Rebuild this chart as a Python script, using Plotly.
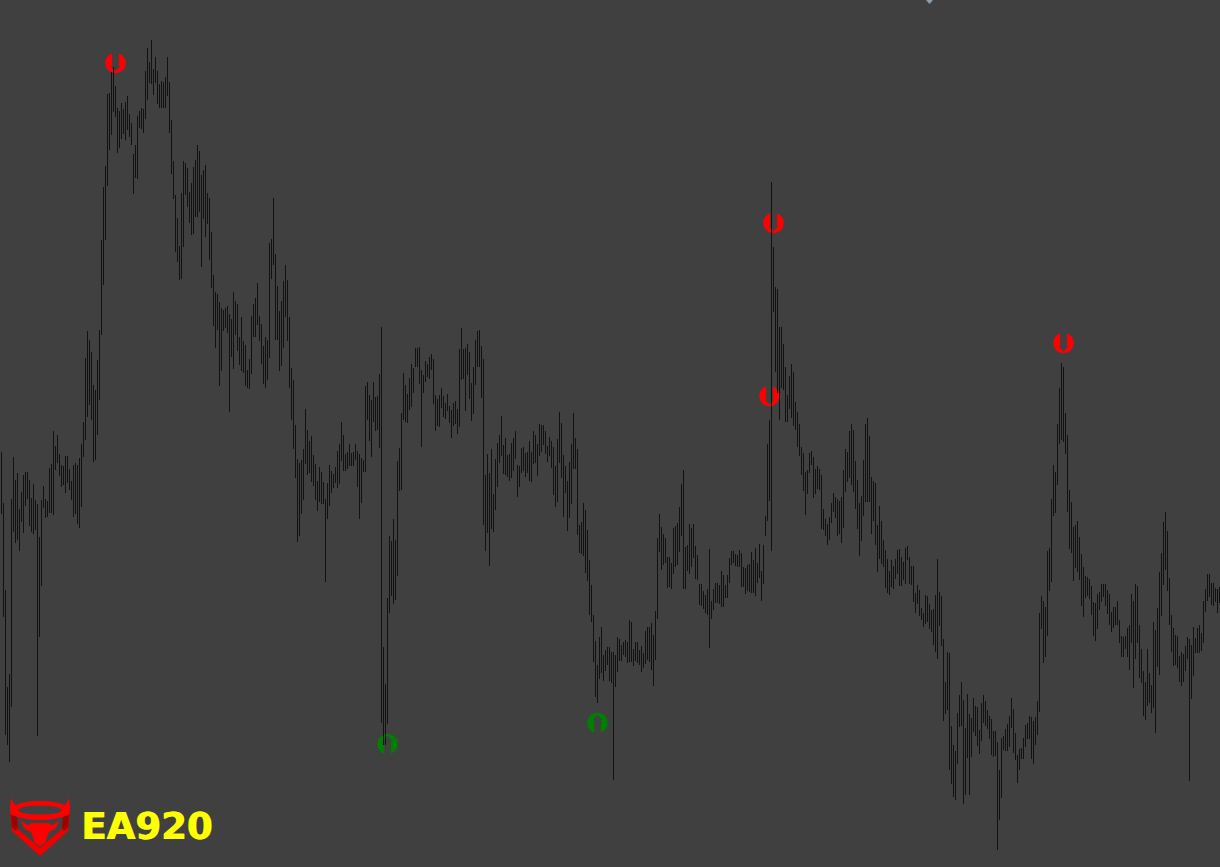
import math
import plotly.graph_objects as go

BG = "#404040"
WIDTH = 1220
HEIGHT = 867

# Bar highs and lows, one row per ten bars. In screen levels (0 at top)
bar_high = [
    452, 503, 590, 687, 674, 499, 457, 480, 473, 509,
    492, 475, 472, 472, 480, 498, 484, 500, 504, 537,
    500, 486, 499, 501, 468, 464, 431, 446, 435, 454,
    465, 466, 456, 456, 469, 481, 465, 463, 465, 458,
    444, 422, 358, 331, 340, 352, 385, 390, 360, 330,
    240, 187, 166, 94, 93, 72, 67, 86, 108, 111,
    103, 109, 102, 96, 114, 123, 154, 145, 116, 111,
    108, 109, 71, 48, 62, 40, 69, 57, 71, 84,
    81, 82, 77, 57, 82, 120, 161, 195, 218, 246,
    193, 161, 163, 168, 192, 183, 167, 160, 145, 151,
    175, 170, 165, 193, 198, 232, 275, 292, 294, 302,
    308, 310, 308, 306, 314, 319, 292, 301, 304, 337,
    317, 341, 345, 370, 359, 316, 304, 298, 283, 316,
    324, 346, 337, 340, 243, 239, 198, 254, 286, 311,
    301, 281, 265, 280, 317, 368, 380, 425, 459, 463,
    460, 449, 409, 430, 441, 436, 455, 464, 481, 467,
    472, 482, 499, 483, 465, 471, 474, 467, 451, 444,
    422, 435, 454, 452, 444, 453, 452, 444, 451, 454,
    458, 460, 386, 382, 395, 400, 382, 397, 396, 374,
    327, 647, 684, 598, 536, 541, 519, 540, 461, 448,
    413, 373, 385, 394, 378, 364, 368, 348, 348, 347,
    370, 375, 361, 364, 357, 354, 359, 395, 399, 395,
    388, 396, 403, 394, 406, 410, 403, 401, 409, 349,
    328, 349, 348, 344, 352, 383, 367, 340, 331, 330,
    346, 359, 475, 454, 473, 449, 494, 459, 443, 435,
    416, 445, 438, 455, 454, 443, 438, 431, 465, 466,
    448, 447, 453, 452, 441, 452, 431, 435, 444, 424,
    425, 425, 431, 446, 437, 441, 447, 466, 439, 412,
    423, 455, 466, 481, 462, 444, 413, 438, 449, 525,
    522, 503, 510, 530, 560, 585, 615, 641, 665, 637,
    627, 655, 650, 647, 647, 652, 652, 655, 637, 639,
    645, 642, 640, 642, 620, 622, 649, 642, 642, 650,
    646, 653, 631, 627, 627, 623, 635, 611, 538, 514,
    527, 534, 538, 557, 557, 563, 528, 526, 523, 507,
    484, 470, 547, 545, 524, 528, 524, 546, 555, 584,
    584, 591, 595, 589, 549, 601, 589, 583, 583, 585,
    571, 575, 585, 575, 558, 551, 551, 554, 555, 550,
    553, 567, 568, 565, 564, 552, 560, 548, 563, 544,
    571, 545, 516, 444, 420, 182, 247, 287, 289, 327,
    327, 344, 367, 395, 376, 364, 372, 402, 412, 424,
    447, 453, 472, 470, 453, 451, 457, 469, 466, 469,
    475, 509, 519, 524, 517, 503, 493, 497, 499, 501,
    497, 470, 449, 452, 431, 424, 430, 461, 480, 503,
    496, 460, 424, 418, 436, 477, 481, 483, 525, 506,
    521, 540, 550, 559, 571, 560, 566, 559, 550, 549,
    557, 562, 548, 546, 557, 566, 566, 593, 585, 590,
    608, 613, 595, 596, 604, 610, 609, 595, 559, 592,
    596, 639, 682, 652, 653, 726, 745, 751, 713, 695,
    682, 700, 728, 694, 714, 718, 698, 706, 707, 730,
    703, 695, 701, 710, 716, 719, 731, 731, 742, 770,
    738, 736, 729, 724, 716, 698, 709, 733, 755, 749,
    748, 738, 725, 723, 716, 717, 721, 717, 701, 613,
    596, 601, 607, 551, 548, 499, 465, 472, 424, 388,
    363, 367, 413, 435, 490, 502, 527, 525, 521, 537,
    554, 567, 576, 577, 579, 586, 602, 603, 594, 592,
    584, 584, 584, 590, 594, 612, 607, 607, 601, 620,
    636, 637, 636, 628, 625, 594, 601, 584, 586, 625,
    649, 671, 682, 649, 673, 685, 622, 630, 608, 572,
    553, 522, 512, 531, 578, 615, 628, 635, 636, 656,
    652, 654, 646, 637, 639, 645, 627, 638, 628, 625,
    633, 601, 589, 574, 574, 583, 583, 588, 589, 587,
]
bar_low = [
    514, 617, 735, 745, 762, 707, 532, 543, 540, 551,
    522, 533, 506, 499, 526, 532, 534, 530, 736, 637,
    586, 508, 518, 517, 513, 513, 515, 470, 463, 476,
    487, 485, 493, 483, 490, 500, 517, 514, 524, 528,
    507, 457, 440, 417, 405, 420, 462, 460, 435, 400,
    335, 285, 240, 186, 150, 135, 112, 117, 153, 148,
    139, 134, 140, 130, 137, 145, 194, 178, 179, 128,
    129, 133, 119, 100, 83, 84, 95, 83, 104, 108,
    108, 108, 108, 96, 133, 174, 199, 252, 262, 280,
    279, 247, 195, 207, 223, 235, 234, 217, 217, 212,
    267, 219, 237, 224, 260, 288, 326, 348, 330, 386,
    371, 331, 328, 333, 412, 357, 369, 335, 351, 365,
    371, 373, 386, 388, 389, 374, 337, 337, 325, 341,
    364, 384, 388, 380, 358, 279, 265, 340, 340, 371,
    366, 348, 317, 341, 388, 420, 449, 478, 542, 536,
    514, 500, 464, 475, 473, 482, 486, 500, 511, 502,
    504, 504, 582, 519, 506, 493, 488, 483, 488, 484,
    461, 471, 471, 469, 466, 466, 466, 460, 487, 519,
    503, 472, 472, 420, 441, 457, 422, 431, 430, 448,
    723, 745, 745, 724, 613, 596, 604, 600, 576, 491,
    490, 420, 422, 423, 410, 407, 393, 367, 367, 384,
    447, 393, 382, 377, 379, 370, 404, 431, 426, 427,
    408, 417, 419, 411, 423, 438, 426, 424, 434, 427,
    380, 379, 411, 375, 399, 421, 414, 385, 367, 367,
    398, 525, 551, 533, 566, 529, 532, 510, 487, 463,
    456, 474, 475, 477, 481, 478, 471, 459, 497, 487,
    473, 471, 477, 473, 481, 482, 464, 463, 476, 456,
    452, 445, 454, 462, 456, 468, 495, 507, 502, 463,
    478, 517, 493, 531, 518, 504, 469, 469, 535, 553,
    554, 556, 573, 581, 615, 622, 662, 697, 703, 679,
    673, 681, 671, 665, 681, 683, 780, 687, 672, 661,
    661, 655, 657, 663, 662, 662, 666, 661, 663, 665,
    672, 668, 664, 660, 662, 670, 686, 660, 619, 552,
    570, 565, 563, 588, 587, 589, 574, 567, 565, 552,
    536, 589, 589, 571, 574, 567, 558, 579, 580, 605,
    606, 609, 613, 615, 648, 619, 610, 603, 603, 604,
    607, 607, 598, 598, 583, 565, 563, 566, 567, 567,
    587, 587, 594, 591, 592, 593, 593, 596, 583, 578,
    601, 584, 536, 521, 501, 551, 312, 372, 393, 420,
    388, 390, 422, 422, 409, 418, 426, 430, 447, 456,
    475, 491, 515, 494, 473, 465, 498, 494, 489, 490,
    529, 530, 536, 545, 540, 523, 512, 518, 536, 534,
    543, 528, 492, 482, 478, 485, 492, 509, 529, 556,
    541, 516, 502, 502, 502, 534, 521, 545, 572, 559,
    564, 567, 588, 593, 595, 587, 589, 579, 574, 586,
    586, 580, 584, 560, 584, 585, 602, 613, 604, 616,
    620, 627, 624, 622, 629, 632, 645, 652, 659, 626,
    646, 721, 714, 710, 770, 784, 797, 800, 764, 727,
    726, 804, 795, 758, 795, 757, 732, 736, 746, 754,
    741, 723, 726, 729, 739, 755, 757, 756, 850, 820,
    798, 750, 751, 751, 747, 728, 753, 760, 783, 770,
    759, 759, 747, 739, 739, 759, 764, 745, 735, 712,
    629, 663, 657, 636, 591, 582, 516, 513, 485, 444,
    440, 442, 454, 512, 549, 553, 581, 568, 572, 580,
    606, 617, 598, 596, 599, 615, 636, 641, 629, 610,
    602, 597, 606, 614, 625, 632, 628, 625, 625, 643,
    657, 657, 649, 657, 670, 643, 688, 659, 643, 678,
    683, 716, 720, 706, 703, 713, 708, 733, 667, 675,
    616, 585, 570, 591, 625, 652, 666, 665, 668, 682,
    686, 682, 671, 659, 781, 699, 676, 653, 653, 653,
    651, 643, 612, 601, 597, 605, 606, 602, 613, 603,
]

# Signals: bar index and level of the icon centre
sell_index = [57, 386, 384, 531]
sell_level = [63, 223, 396, 343]
buy_index = [193, 298]
buy_level = [744, 723]


def arrow_circle_path(flip):
    # circle radius 10 with an arrow cut out of it, pixel units round the anchor
    sign = -1 if flip else 1
    pts = []
    top = math.degrees(math.asin(3.4 / 10.2))
    for k in range(41):
        a = math.radians(90 - top - k * (360 - 2 * top) / 40)
        pts.append((10.2 * math.cos(a), 10.2 * math.sin(a)))
    pts += [(-3.4, -3), (-4.6, -3.5), (0, -8.5), (4.6, -3.5), (3.4, -3)]
    return "M" + " L".join(f"{x:.2f},{sign * y:.2f}" for x, y in pts) + " Z"


def signal_shape(idx, level, color, flip):
    return dict(type="path", layer="below", xref="x", yref="y",
                xsizemode="pixel", ysizemode="pixel", xanchor=idx, yanchor=level,
                path=arrow_circle_path(flip), fillcolor=color, line_width=0)


def screen_path(pts):
    # polygon given in window pixels, drawn on paper coordinates
    return "M" + " L".join(f"{x / WIDTH:.5f},{1 - y / HEIGHT:.5f}" for x, y in pts) + " Z"


def logo_shape(pts, color):
    return dict(type="path", xref="paper", yref="paper", path=screen_path(pts),
                fillcolor=color, line_width=0)


def ellipse(cx, cy, rx, ry):
    return [(cx + rx * math.cos(math.radians(a)), cy - ry * math.sin(math.radians(a))) for a in range(0, 360, 15)]


xs, ys = [], []
for i, (hi, lo) in enumerate(zip(bar_high, bar_low)):
    xs += [i, i, None]
    ys += [hi, lo, None]

fig = go.Figure(go.Scatter(x=xs, y=ys, mode="lines", hoverinfo="skip",
                           line=dict(color="#111111", width=1, simplify=False)))

shapes = []
for idx, level in zip(sell_index, sell_level):
    shapes.append(signal_shape(idx, level, "#ff0000", False))
for idx, level in zip(buy_index, buy_level):
    shapes.append(signal_shape(idx, level, "#008000", True))

# logo, shield first and the head on top
shapes += [
    logo_shape([(10, 808), (12, 831), (40, 856), (68, 831), (70, 808), (65, 816),
                (63, 828), (40, 848), (17, 828), (15, 816)], "#f00000"),
    logo_shape([(11, 815), (12, 828), (16, 831), (18, 827), (17, 817)], "#a00000"),
    logo_shape([(69, 815), (68, 828), (64, 831), (62, 827), (63, 817)], "#a00000"),
    logo_shape(ellipse(40, 810.5, 30, 9.5), "#ff0000"),
    logo_shape(ellipse(40, 810, 22, 4.5), BG),
    logo_shape([(10, 808), (11, 798), (14, 804), (20, 808), (14, 816)], "#ff0000"),
    logo_shape([(70, 808), (69, 798), (66, 804), (60, 808), (66, 816)], "#ff0000"),
    logo_shape([(20, 821), (28, 825), (32, 823), (48, 823), (52, 825), (60, 821),
                (55, 829), (49, 832), (45, 843), (40, 846), (35, 843), (31, 832), (25, 829)], "#ff0000"),
    # small pointer at the top edge
    logo_shape([(926, 0), (933, 0), (929.5, 4)], "#8d9dab"),
]

fig.update_layout(
    width=WIDTH,
    height=HEIGHT,
    margin=dict(l=0, r=0, t=0, b=0),
    paper_bgcolor=BG,
    plot_bgcolor=BG,
    showlegend=False,
    xaxis=dict(visible=False, range=[-0.75, 609.25]),
    yaxis=dict(visible=False, range=[867, 0]),
    shapes=shapes,
    annotations=[dict(text="<b>EA920</b>", xref="paper", yref="paper", x=79 / WIDTH,
                      y=1 - 826 / HEIGHT, xanchor="left", yanchor="middle", showarrow=False,
                      font=dict(family="DejaVu Sans", size=37, color="#ffff00", shadow="1px 0 0 #ffff00"))],
)

fig.write_html("out.html", config={"displayModeBar": False},
               post_script="document.body.style.margin='0';document.documentElement.style.overflow='hidden';")
